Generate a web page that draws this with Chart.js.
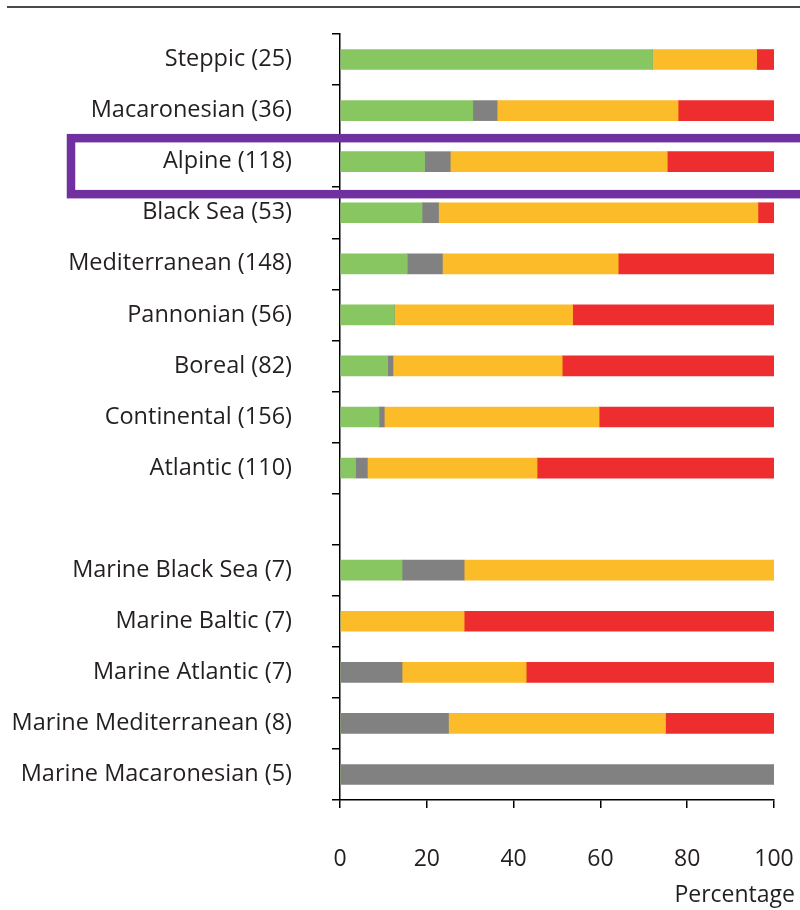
<!doctype html>
<html lang="en">

<head>
    <title>Conservation status by region</title>
    <meta charset="utf-8" />
    <script src="https://cdn.jsdelivr.net/npm/chart.js@4.4.1/dist/chart.umd.min.js"></script>
    <style>
        body {
            margin: 0;
            background: #fff;
        }
        #divchart {
            width: 800px;
            height: 910px;
        }
    </style>
</head>

<body>
    <div id="divchart">
        <canvas id="myChart" width="800" height="910"></canvas>
    </div>

    <script>
        // regions (empty label = gap between terrestrial and marine)
        const regions = [
            'Steppic (25)', 'Macaronesian (36)', 'Alpine (118)', 'Black Sea (53)',
            'Mediterranean (148)', 'Pannonian (56)', 'Boreal (82)', 'Continental (156)',
            'Atlantic (110)', '', 'Marine Black Sea (7)', 'Marine Baltic (7)',
            'Marine Atlantic (7)', 'Marine Mediterranean (8)', 'Marine Macaronesian (5)'
        ];

        // percentages per status
        const favourable = [72, 30.6, 19.5, 18.9, 15.5, 12.5, 11.0, 9.0, 3.6, null, 14.3, 0, 0, 0, 0];
        const unknown = [0, 5.6, 5.9, 3.8, 8.1, 0, 1.2, 1.2, 2.7, null, 14.3, 0, 14.3, 25, 100];
        const inadequate = [24, 41.7, 50.0, 73.6, 40.5, 41.1, 39.0, 49.5, 39.1, null, 71.4, 28.6, 28.6, 50, 0];
        const bad = [4, 22.1, 24.6, 3.7, 35.9, 46.4, 48.8, 40.3, 54.6, null, 0, 71.4, 57.1, 25, 0];

        const xTicks = [0, 20, 40, 60, 80, 100];

        const textColor = '#231f20';
        const fontFamily = '"Open Sans", sans-serif';

        // top rule, purple highlight box and axis title
        const extras = {
            id: 'extras',
            afterDraw(chart) {
                const ctx = chart.ctx;
                const y = chart.scales.y;
                ctx.save();
                ctx.strokeStyle = '#4a4a4a';
                ctx.lineWidth = 2;
                ctx.beginPath();
                ctx.moveTo(7, 7);
                ctx.lineTo(800, 7);
                ctx.stroke();

                const c = y.getPixelForValue(2);
                ctx.strokeStyle = '#7030a0';
                ctx.lineWidth = 8.5;
                ctx.strokeRect(71, c - 23.5, 760, 56);

                ctx.fillStyle = textColor;
                ctx.font = '23px ' + fontFamily;
                ctx.textAlign = 'right';
                ctx.textBaseline = 'middle';
                ctx.fillText('Percentage', chart.chartArea.right + 21, 895);
                ctx.restore();
            }
        };

        const ctx = document.getElementById('myChart').getContext('2d');
        const myChart = new Chart(ctx, {
            type: 'bar',
            data: {
                labels: regions,
                datasets: [
                    { label: 'Favourable', data: favourable, backgroundColor: '#88c662' },
                    { label: 'Unknown', data: unknown, backgroundColor: '#818181' },
                    { label: 'Unfavourable-inadequate', data: inadequate, backgroundColor: '#fcbb29' },
                    { label: 'Unfavourable-bad', data: bad, backgroundColor: '#ee2e2e' }
                ]
            },
            plugins: [extras],
            options: {
                indexAxis: 'y',
                responsive: false,
                animation: false,
                barThickness: 20,
                layout: { padding: { top: 34, right: 26, left: 0, bottom: 0 } },
                plugins: {
                    legend: { display: false },
                    tooltip: { enabled: false }
                },
                scales: {
                    x: {
                        stacked: true,
                        min: 0,
                        max: 100,
                        afterBuildTicks: (scale) => {
                            scale.ticks = xTicks.map(v => ({ value: v }));
                        },
                        afterFit: (scale) => {
                            scale.height = 110;
                            scale.paddingLeft = 0;
                            scale.paddingRight = 0;
                        },
                        border: { display: true, color: '#000', width: 1.5 },
                        grid: { drawOnChartArea: false, tickLength: 8, color: '#000', lineWidth: 1.5 },
                        ticks: {
                            padding: 38,
                            color: textColor,
                            font: { family: fontFamily, size: 23 }
                        }
                    },
                    y: {
                        stacked: true,
                        afterFit: (scale) => {
                            scale.width = 340;
                            scale.paddingTop = 0;
                            scale.paddingBottom = 0;
                        },
                        border: { display: true, color: '#000', width: 1.5 },
                        grid: { drawOnChartArea: false, tickLength: 8, color: '#000', lineWidth: 1.5 },
                        ticks: {
                            padding: 40,
                            color: textColor,
                            font: { family: fontFamily, size: 23.5 }
                        }
                    }
                }
            }
        });
    </script>
</body>

</html>
